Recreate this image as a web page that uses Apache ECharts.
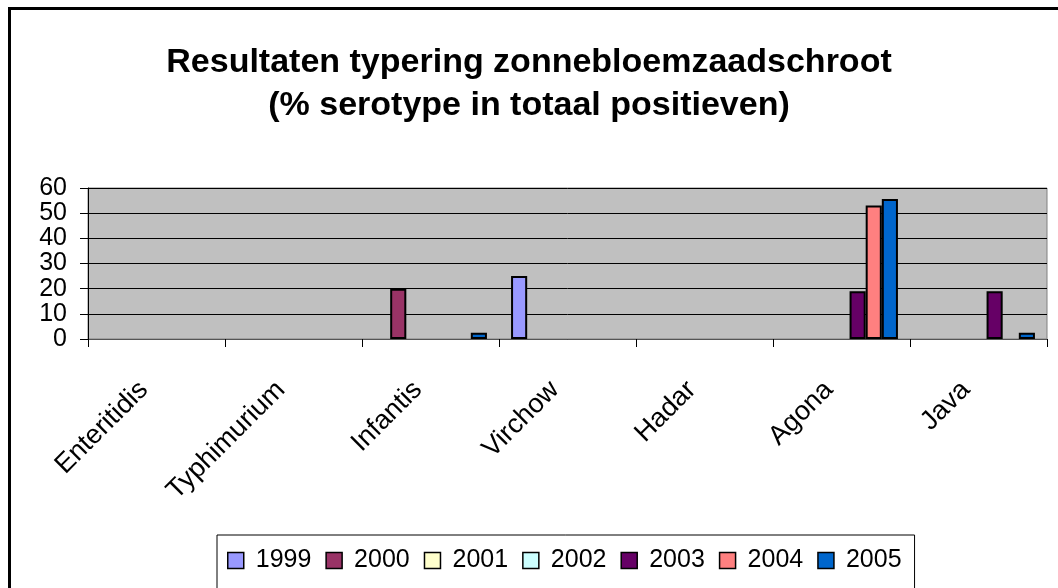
<!DOCTYPE html>
<html lang="nl" style="height: 100%">
<head>
  <meta charset="utf-8">
</head>
<body style="height: 100%; margin: 0; background: #fff">
  <div id="container" style="width: 1058px; height: 588px"></div>

  <script type="text/javascript" src="https://fastly.jsdelivr.net/npm/echarts@6.0.0/dist/echarts.min.js"></script>
  <script>
    // categorieen en percentages per jaar (leeg = geen staaf)
    var serotypes = ['Enteritidis', 'Typhimurium', 'Infantis', 'Virchow', 'Hadar', 'Agona', 'Java'];
    var years = ['1999', '2000', '2001', '2002', '2003', '2004', '2005'];
    var y1999 = [null, null, null, 25, null, null, null];
    var y2000 = [null, null, 20, null, null, null, null];
    var y2001 = [null, null, null, null, null, null, null];
    var y2002 = [null, null, null, null, null, null, null];
    var y2003 = [null, null, null, null, null, 19, 19];
    var y2004 = [null, null, null, null, null, 53, null];
    var y2005 = [null, null, 2.5, null, null, 55.6, 2.5];
    var yTicks = [0, 10, 20, 30, 40, 50, 60];

    var colors = ['#9999FF', '#993366', '#FFFFCC', '#CCFFFF', '#660066', '#FF8080', '#0066CC'];
    var values = [y1999, y2000, y2001, y2002, y2003, y2004, y2005];
    var font = '"Liberation Sans", Arial, sans-serif';

    var dom = document.getElementById('container');
    var myChart = echarts.init(dom, null, { renderer: 'canvas' });

    var series = years.map(function (name, i) {
      return {
        name: name,
        type: 'bar',
        data: values[i],
        barGap: '0%',
        barCategoryGap: '17.6%',
        itemStyle: { color: colors[i], borderColor: '#000', borderWidth: 2 },
        emphasis: { disabled: true }
      };
    });

    var option = {
      animation: false,
      backgroundColor: '#fff',
      color: colors,
      title: {
        text: 'Resultaten typering zonnebloemzaadschroot\n(% serotype in totaal positieven)',
        left: 'center',
        top: 36,
        textStyle: { fontFamily: font, fontSize: 34, fontWeight: 'bold', color: '#000', lineHeight: 43 }
      },
      graphic: [{
        type: 'rect',
        shape: { x: 9.5, y: 8.5, width: 1200, height: 800 },
        style: { fill: 'none', stroke: '#000', lineWidth: 3 },
        silent: true
      }],
      legend: {
        data: years,
        left: 217,
        top: 535,
        padding: [13, 13, 40, 10],
        itemWidth: 16,
        itemHeight: 16,
        itemGap: 14,
        icon: 'rect',
        backgroundColor: '#fff',
        borderColor: '#000',
        borderWidth: 1,
        itemStyle: { borderColor: '#000', borderWidth: 1.5 },
        textStyle: { fontFamily: font, fontSize: 25, color: '#000', padding: [0, 0, 0, 7] }
      },
      grid: {
        left: 88,
        top: 188,
        width: 959,
        height: 151,
        show: true,
        backgroundColor: '#C0C0C0',
        borderColor: '#808080',
        borderWidth: 1
      },
      xAxis: {
        type: 'category',
        data: serotypes,
        axisLine: { lineStyle: { color: '#555', width: 1 } },
        axisTick: { show: true, length: 8, alignWithLabel: false, lineStyle: { color: '#000' } },
        axisLabel: {
          rotate: 45, margin: 34, interval: 0, padding: [0, 18, 0, 0],
          fontFamily: font, fontSize: 27, color: '#000'
        },
        splitLine: { show: false }
      },
      yAxis: {
        type: 'value',
        min: yTicks[0],
        max: yTicks[yTicks.length - 1],
        interval: 10,
        axisLine: { show: true, lineStyle: { color: '#000', width: 1 } },
        axisTick: { show: true, length: 8, lineStyle: { color: '#000' } },
        axisLabel: {
          margin: 21, showMinLabel: true, showMaxLabel: true, hideOverlap: false,
          fontFamily: font, fontSize: 25, lineHeight: 22, color: '#000'
        },
        splitLine: { show: true, lineStyle: { color: '#000', width: 1 } }
      },
      series: series
    };

    myChart.setOption(option);
    window.addEventListener('resize', myChart.resize);
  </script>
</body>
</html>
